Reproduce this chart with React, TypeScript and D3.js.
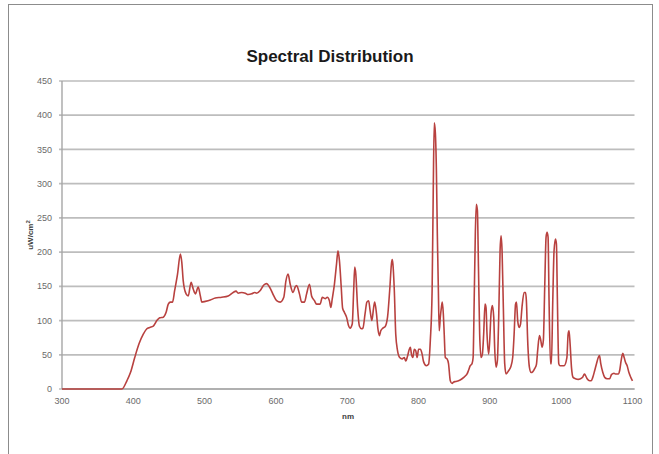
import React from 'react'
import * as d3 from 'd3'

// wavelength (nm) and irradiance (uW/cm2)
const wavelengths = [
  300, 350, 384, 391, 396, 402, 408, 414, 419, 423, 428, 433, 437, 442, 446, 449, 452, 455, 458, 462,
  466, 468, 470, 474, 477, 481, 484, 487, 491, 494, 496, 501, 508, 515, 524, 533, 540, 544, 547, 552,
  557, 561, 566, 570, 573, 578, 583, 587, 591, 597, 601, 606, 611, 614, 617, 620, 624, 627, 629, 633,
  636, 640, 643, 647, 650, 654, 657, 662, 665, 669, 672, 675, 677, 679, 682, 685, 687, 689, 691.5, 693.5,
  696, 699, 702, 704, 707, 709, 710.5, 712, 714.5, 717, 720, 722, 725, 727.5, 730, 732, 734.5, 737, 738.5, 741,
  743, 745, 747, 750, 753, 756.5, 759.5, 762, 763, 764, 766, 768, 770.5, 773.5, 777, 780, 782, 784.5, 787, 788.5,
  790, 792, 794, 796, 798, 800, 802.5, 805, 807, 811, 814, 816.5, 819, 820.5, 822, 823.5, 825, 826.3, 827.7, 829,
  830.5, 832, 833.3, 834.7, 836, 837.5, 840, 842, 844.5, 847, 849, 852, 856, 861, 865.5, 868, 870, 872.5, 875, 876.5,
  878, 879.6, 881, 882.5, 884, 885.7, 887.6, 889.5, 891.3, 893.2, 894.6, 896, 898.3, 899.8, 901.6, 903.5, 905.4, 906.7, 908.7, 910.5,
  912.4, 914.3, 915.7, 917.1, 918.9, 920.8, 922.7, 926.4, 929.2, 932, 934, 936, 937.3, 939, 941, 943, 945, 948, 950, 951.2,
  953, 955.4, 957.8, 960, 963, 965.3, 967, 969.5, 971.4, 973.2, 975, 977, 978.8, 980.2, 981.6, 983, 985, 986.3, 988.2, 990,
  992, 993.3, 994.7, 996.6, 998.5, 1004, 1008, 1009.7, 1011, 1012.5, 1014.4, 1016.7, 1020, 1024, 1027, 1030, 1032.6, 1034, 1036.4, 1040,
  1042, 1044.3, 1047, 1049.5, 1052, 1053.7, 1055.5, 1058.4, 1061, 1064.4, 1068, 1070.5, 1074, 1076, 1080, 1082, 1084, 1086.4, 1088.3, 1090.2,
  1092.5, 1095, 1097.6, 1100,
]
const irradiance = [
  0, 0, 0, 12, 24, 46, 66, 80, 88, 90, 92, 100, 104, 105, 112, 124, 127, 127, 144, 168,
  197, 185, 158, 139, 136, 156, 146, 139, 149, 136, 127, 128, 130, 133, 134, 136, 141, 143, 140, 141,
  140, 138, 139, 141, 140, 144, 152, 154, 149, 136, 129, 127, 134, 158, 168, 153, 141, 149, 151, 139,
  127, 127, 139, 153, 136, 129, 124, 124, 134, 132, 134, 129, 119, 132, 153, 183, 202, 188, 150, 118,
  112, 105, 92, 89, 95, 144, 178, 168, 119, 92, 88, 89, 110, 127, 129, 115, 100, 119, 127, 110,
  88, 78, 85, 89, 91, 105, 144, 183, 189, 183, 144, 80, 56, 46, 44, 46, 41, 48, 58, 61,
  51, 46, 58, 56, 46, 58, 58, 51, 40, 34, 36, 71, 144, 280, 389, 375, 320, 227, 149, 85,
  105, 119, 127, 110, 80, 46, 44, 37, 12, 8, 10, 11, 12, 15, 19, 22, 27, 34, 37, 46,
  129, 227, 270, 261, 178, 80, 46, 51, 80, 124, 119, 80, 51, 71, 110, 122, 105, 61, 32, 41,
  105, 202, 224, 202, 119, 37, 22, 27, 32, 46, 80, 124, 127, 100, 90, 95, 119, 141, 141, 129,
  71, 32, 24, 25, 30, 36, 56, 78, 71, 61, 71, 153, 222, 229, 222, 129, 37, 37, 129, 202,
  219, 212, 129, 37, 34, 34, 46, 80, 85, 66, 32, 17, 15, 14, 15, 17, 22, 20, 15, 12,
  12, 17, 27, 37, 46, 49, 37, 24, 17, 15, 15, 21, 23, 22, 22, 27, 41, 52, 46, 39,
  34, 24, 17, 12,
]
const xTicks = [300, 400, 500, 600, 700, 800, 900, 1000, 1100]
const yTicks = [0, 50, 100, 150, 200, 250, 300, 350, 400, 450]

const width = 659
const height = 454
const margin = { top: 81, right: 26.5, bottom: 65, left: 62 }

export default function App() {
  const x = d3.scaleLinear().domain([300, 1100]).range([margin.left, width - margin.right])
  const y = d3.scaleLinear().domain([0, 450]).range([height - margin.bottom, margin.top])
  const points: [number, number][] = wavelengths.map((w, i) => [w, irradiance[i]])
  const line = d3
    .line<[number, number]>()
    .x((d) => x(d[0]))
    .y((d) => y(d[1]))
    .curve(d3.curveMonotoneX)

  const font = '"Liberation Sans", Arial, sans-serif'
  const [x0, x1] = x.range()
  const y0 = y(0)

  return (
    <svg
      width={width}
      height={height}
      style={{ position: 'absolute', left: 0, top: 0, background: '#fff' }}
    >
      {/* frame */}
      <rect x={8.5} y={4.5} width={644} height={470} fill='none' stroke='#8c8c8c' strokeWidth={1} />

      <text x={330} y={62} textAnchor='middle' fontFamily={font} fontWeight='bold' fontSize={17} fill='#1a1a1a'>
        Spectral Distribution
      </text>

      {/* grid */}
      {yTicks.map((t) => (
        <g key={t}>
          <line x1={x0 - 3} x2={x1 + 2} y1={y(t)} y2={y(t)} stroke='#bdbdbd' strokeWidth={1.7} />
          <text
            x={x0 - 10}
            y={y(t)}
            dy='0.35em'
            textAnchor='end'
            fontFamily={font}
            fontSize={9}
            fill='#6a6a6a'
          >
            {t}
          </text>
        </g>
      ))}
      <line x1={x0} x2={x0} y1={y(450)} y2={y0} stroke='#a6a6a6' strokeWidth={1.4} />
      <line x1={x0} x2={x1 + 2} y1={y0} y2={y0} stroke='#a6a6a6' strokeWidth={1.7} />

      {xTicks.map((t) => (
        <text
          key={t}
          x={x(t)}
          y={y0 + 15}
          textAnchor='middle'
          fontFamily={font}
          fontSize={9}
          fill='#6a6a6a'
        >
          {t}
        </text>
      ))}

      <text x={348} y={419} textAnchor='middle' fontFamily={font} fontWeight='bold' fontSize={8} fill='#404040'>
        nm
      </text>
      <text
        transform={`translate(33, ${(y(0) + y(450)) / 2}) rotate(-90)`}
        textAnchor='middle'
        fontFamily={font}
        fontWeight='bold'
        fontSize={8}
        fill='#404040'
      >
        uW/cm
        <tspan dy={-3} fontSize={6}>
          2
        </tspan>
      </text>

      <path d={line(points) || ''} fill='none' stroke='#b8413f' strokeWidth={1.6} strokeLinejoin='round' />
    </svg>
  )
}
